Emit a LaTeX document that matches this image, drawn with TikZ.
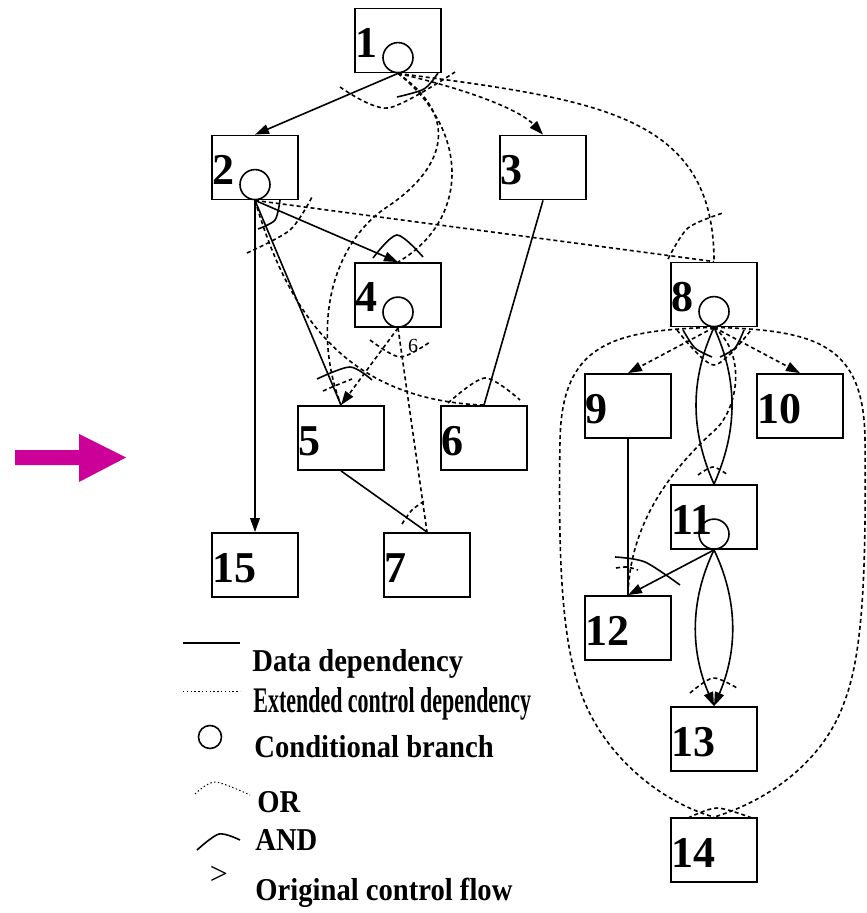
\documentclass[tikz,border=0pt]{standalone}
\usepackage{fontspec}
\setmainfont{Liberation Serif}
\usepackage{tikz}
\usetikzlibrary{arrows.meta}
\definecolor{flowmag}{RGB}{204,0,153}

\begin{document}
\begin{tikzpicture}[x=0.5pt, y=-0.5pt,
  >={Triangle[length=7pt,width=4.8pt]},
  box/.style={draw, line width=0.9pt, minimum width=43pt, minimum height=32pt,
    inner xsep=0pt, inner ysep=0pt, text width=43pt, align=left,
    text height=17pt, text depth=0pt, font=\bfseries\fontsize{22}{24}\selectfont},
  branch/.style={draw, circle, line width=0.8pt, minimum size=15pt, inner sep=0pt, anchor=south},
  dep/.style={line width=0.8pt},
  ctrl/.style={line width=0.8pt, dash pattern=on 2pt off 1.5pt},
  legtext/.style={anchor=base west, inner sep=0pt, font=\bfseries\fontsize{15.9}{18}\selectfont}]
\useasboundingbox (0,0) rectangle (866,913);

% arrow on the left
\fill[flowmag] (15,450) -- (79,450) -- (79,434) -- (126,457.5) -- (79,482) -- (79,465) -- (15,465) -- cycle;

% blocks
\node[box] (n1) at (398,40.5) {1};
\node[box] (n2) at (255,167.5) {2};
\node[box] (n3) at (543,167.5) {3};
\node[box] (n4) at (398,295) {4};
\node[box] (n5) at (341,438) {5};
\node[box] (n6) at (484,438) {6};
\node[box] (n7) at (427,565) {7};
\node[box] (n8) at (714,294.5) {8};
\node[box] (n9) at (628,406) {9};
\node[box] (n10) at (800,406) {10};
\node[box] (n11) at (714,517) {11};
\node[box] (n12) at (628,628) {12};
\node[box] (n13) at (714,739) {13};
\node[box] (n14) at (714,850) {14};
\node[box] (n15) at (255,565) {15};

% conditional branches
\node[branch] (b1) at (n1.south) {};
\node[branch] (b2) at (n2.south) {};
\node[branch] (b4) at (n4.south) {};
\node[branch] (b8) at (n8.south) {};
\node[branch] (b11) at (n11.south) {};

% data dependencies
\draw[dep,->] (n1.south) -- (n2.north);
\draw[dep,->] (n2.south) -- (n15.north);
\draw[dep,->] (n2.south) -- (n4.north);
\draw[dep] (n2.south) -- (n5.north);
\draw[dep] (n3.south) -- (n6.north);
\draw[dep] (n5.south) -- (n7.north);
\draw[dep] (n8.south) .. controls (690,380) and (690,430) .. (n11.north);
\draw[dep] (n8.south) .. controls (738,380) and (738,430) .. (n11.north);
\draw[dep] (n9.south) -- (n12.north);
\draw[dep,->] (n11.south) -- (n12.north);
\draw[dep,->] (n11.south) .. controls (690,600) and (690,650) .. (n13.north);
\draw[dep,->] (n11.south) .. controls (738,600) and (738,650) .. (n13.north);

% extended control dependencies
\draw[ctrl,->] (n1.south) .. controls (470,90) and (520,110) .. (n3.north);
\draw[ctrl] (n1.south) .. controls (600,100) and (714,115) .. (n8.north);
\draw[ctrl] (n1.south) .. controls (470,130) and (470,220) .. (n4.north);
\draw[ctrl] (n1.south) .. controls (465,120) and (440,172) .. (387,207)
  .. controls (330,245) and (312,330) .. (n5.north);
\draw[ctrl] (n2.south) -- (n8.north);
\draw[ctrl] (n2.south) .. controls (290,320) and (350,400) .. (n6.north);
\draw[ctrl,->] (n4.south) -- (n5.north);
\draw[ctrl] (n4.south) -- (n7.north);
\draw[ctrl,->] (n8.south) -- (n9.north);
\draw[ctrl,->] (n8.south) -- (n10.north);
\draw[ctrl] (n8.south) .. controls (748,355) and (737,410) .. (715,430)
  .. controls (675,466) and (630,520) .. (n12.north);
\draw[ctrl] (n8.south) .. controls (610,330) and (562,345) .. (560,440)
  .. controls (558,560) and (562,640) .. (580,690)
  .. controls (600,750) and (655,800) .. (n14.north);
\draw[ctrl] (n8.south) .. controls (818,330) and (864,345) .. (865,440)
  .. controls (866,560) and (864,650) .. (845,700)
  .. controls (825,760) and (770,800) .. (n14.north);

% OR
\draw[ctrl] plot[smooth] coordinates {(340,87) (388,108) (455,72)};
\draw[ctrl] plot[smooth] coordinates {(247,253) (290,230) (312,197)};
\draw[ctrl] plot[smooth] coordinates {(668,259) (688,228) (723,213)};
\draw[ctrl] plot[smooth] coordinates {(370,340) (400,357) (430,342)};
\draw[ctrl] plot[smooth] coordinates {(323,391) (337,385) (352,379)};
\draw[ctrl] plot[smooth] coordinates {(448,403) (485,378) (520,400)};
\draw[ctrl] plot[smooth] coordinates {(402,524) (412,510) (426,500)};
\draw[ctrl] plot[smooth] coordinates {(677,330) (714,365) (751,330)};
\draw[ctrl] plot[smooth] coordinates {(698,475) (713,467) (728,475)};
\draw[ctrl] plot[smooth] coordinates {(616,568) (627,567) (638,570)};
\draw[ctrl] plot[smooth] coordinates {(690,693) (713,678) (737,688)};
\draw[ctrl] plot[smooth] coordinates {(688,818) (717,808) (752,818)};
\node[inner sep=0pt, font=\fontsize{10}{12}\selectfont] (orlabel) at (413,346) {6};

% AND
\draw[dep] plot[smooth] coordinates {(438,73) (424,89) (397,97)};
\draw[dep] plot[smooth] coordinates {(280,200) (275,220) (258,229)};
\draw[dep] plot[smooth] coordinates {(373,258) (397,235) (423,257)};
\draw[dep] plot[smooth] coordinates {(317,379) (350,367) (372,380)};
\draw[dep] plot[smooth] coordinates {(683,330) (695,348) (712,357)};
\draw[dep] plot[smooth] coordinates {(720,357) (735,348) (744,330)};
\draw[dep] plot[smooth] coordinates {(615,557) (645,562) (680,585)};

% legend
\draw[dep] (183,643) -- (240,643);
\node[legtext] (kdata) at (252,671) {\scalebox{0.9}[1]{Data dependency}};
\draw[line width=0.5pt, dash pattern=on 0.7pt off 1.2pt] (183,691) -- (240,691);
\node[legtext] (kctrl) at (253,712) {\scalebox{0.61}[1]{\fontsize{18}{20}\selectfont Extended control dependency}};
\node[branch, anchor=center, minimum size=11.5pt] (kbranch) at (210,737) {};
\node[legtext] (kcond) at (254,757) {\scalebox{0.9}[1]{Conditional branch}};
\draw[line width=0.5pt, dash pattern=on 0.7pt off 1.2pt] plot[smooth] coordinates {(195,794) (215,782) (250,795)};
\node[legtext] (kor) at (257,812) {\scalebox{0.9}[1]{OR}};
\draw[dep] plot[smooth] coordinates {(197,850) (219,834) (240,840)};
\node[legtext] (kand) at (255,850) {\scalebox{0.9}[1]{AND}};
\node[inner sep=0pt, font=\fontsize{16}{18}\selectfont] (kflow) at (219,875) {>};
\node[legtext] (korig) at (255,900) {\scalebox{0.9}[1]{Original control flow}};
\end{tikzpicture}
\end{document}
